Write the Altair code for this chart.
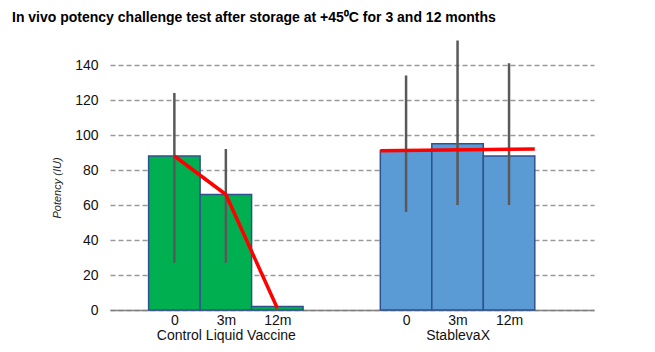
import altair as alt
import pandas as pd

# ---- data ----
groups = ["Control Liquid Vaccine", "StablevaX"]
timepoints = ["0", "3m", "12m"]
green_values = [88, 66, 2]
blue_values = [91, 95, 88]
green_err_low = [27, 27, None]
green_err_high = [124, 92, None]
blue_err_low = [56, 60, 60]
blue_err_high = [134, 154, 141]
green_trend = [88, 66, 1]
blue_trend = [91, 92]
y_ticks = [0, 20, 40, 60, 80, 100, 120, 140]

# slot layout (in bar-width units)
GROUP_START = [1.25, 5.75]

rows = []
for gi, (g, vals, lo, hi) in enumerate(zip(groups, [green_values, blue_values],
                                          [green_err_low, blue_err_low],
                                          [green_err_high, blue_err_high])):
    for ti, t in enumerate(timepoints):
        p = GROUP_START[gi] + ti
        rows.append(dict(group=g, time=t, value=vals[ti], low=lo[ti], high=hi[ti],
                         pos=p, x0=p - 0.5, x1=p + 0.5))
df = pd.DataFrame(rows)

trend_rows = []
for ti, v in enumerate(green_trend):
    trend_rows.append(dict(series="g", pos=GROUP_START[0] + ti, value=v))
trend_rows.append(dict(series="b", pos=GROUP_START[1] - 0.5, value=blue_trend[0]))
trend_rows.append(dict(series="b", pos=GROUP_START[1] + len(timepoints) - 0.5, value=blue_trend[1]))
tdf = pd.DataFrame(trend_rows)

# x-axis labels (multi-line under the middle bar of each group)
tick_vals = list(df["pos"])
parts = []
for _, r in df.iterrows():
    if r["time"] == "3m":
        lab = "['%s', '%s']" % (r["time"], r["group"])
    else:
        lab = "'%s'" % r["time"]
    parts.append("datum.value == %s ? %s" % (r["pos"], lab))
label_expr = " : ".join(parts) + " : ''"

FONT = "Liberation Sans, Arial, sans-serif"

xscale = alt.Scale(domain=[0, 9.4], nice=False, zero=False)
yscale = alt.Scale(domain=[0, 140], nice=False, zero=True)

x_axis = alt.Axis(values=tick_vals, labelExpr=label_expr, title=None, ticks=False,
                  grid=False, domain=True, domainColor="#808080", domainWidth=1.5,
                  labelFont=FONT, labelFontSize=14, labelColor="#111111",
                  labelPadding=3, labelLineHeight=15, labelOverlap=False, labelFlush=False)
y_axis = alt.Axis(values=y_ticks, title="Potency (IU)", ticks=False, domain=False,
                  grid=True, gridDash=[5, 3], gridColor="#9a9a9a", gridWidth=1.3,
                  labelOverlap=False, labelFlush=False,
                  labelFont=FONT, labelFontSize=14, labelColor="#111111", labelPadding=12,
                  titleFont=FONT, titleFontSize=11, titleFontStyle="italic",
                  titleFontWeight="normal", titleColor="#222222", titlePadding=12)

base = alt.Chart(df)

bars = base.mark_bar(stroke="#2F528F", strokeWidth=1.5).encode(
    x=alt.X("x0:Q", scale=xscale, axis=x_axis),
    x2="x1:Q",
    y=alt.Y("value:Q", scale=yscale, axis=y_axis),
    y2=alt.datum(0),
    color=alt.Color("group:N", scale=alt.Scale(domain=groups, range=["#00B050", "#5B9BD5"]),
                    legend=None),
)

err = base.transform_filter("isValid(datum.low)").mark_rule(
    color="#595959", strokeWidth=2.5
).encode(
    x=alt.X("pos:Q", scale=xscale, axis=x_axis),
    y=alt.Y("low:Q", scale=yscale, axis=y_axis),
    y2="high:Q",
)

trend = alt.Chart(tdf).mark_line(color="#FF0000", strokeWidth=3.5).encode(
    x=alt.X("pos:Q", scale=xscale, axis=x_axis),
    y=alt.Y("value:Q", scale=yscale, axis=y_axis),
    detail="series:N",
)

chart = alt.layer(bars, err, trend).properties(
    width=484, height=245,
    padding={"left": 110, "top": 65, "right": 61, "bottom": 42},
    autosize="none",
    title=alt.TitleParams(
        text="In vivo potency challenge test after storage at +45\u2070C for 3 and 12 months",
        anchor="start", frame="group", dx=-98, offset=14,
        font=FONT, fontSize=14, fontWeight="bold", color="#000000",
    ),
).configure_view(stroke=None)

chart.save("out.html", embed_options={"renderer": "svg", "actions": False})
